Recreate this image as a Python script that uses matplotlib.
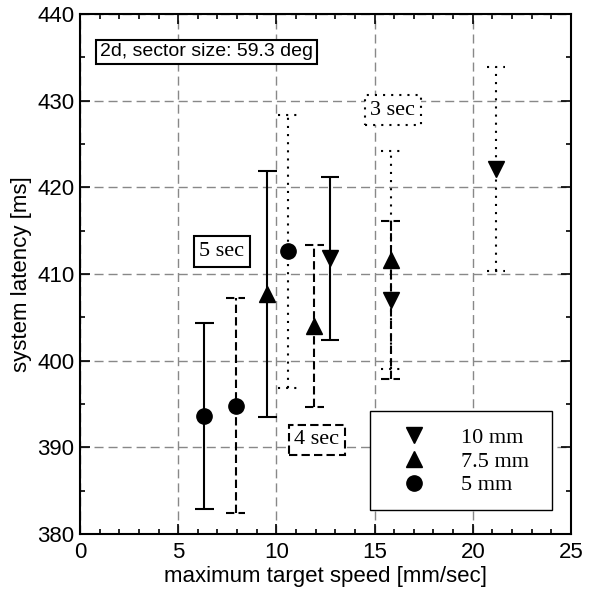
import matplotlib
matplotlib.use("Agg")
import matplotlib.pyplot as plt
from matplotlib.ticker import MultipleLocator
from matplotlib.lines import Line2D
from matplotlib.patches import Rectangle

# max target speed for 5 / 4 / 3 sec
speed_5mm = [6.33, 7.93, 10.57]
speed_7mm = [9.53, 11.92, 15.83]
speed_10mm = [12.73, 15.83, 21.18]

# mean system latency [ms] and half error bar
lat_5mm = [393.6, 394.8, 412.6]
err_5mm = [10.7, 12.4, 15.7]
lat_7mm = [407.7, 404.0, 411.6]
err_7mm = [14.2, 9.4, 12.6]
lat_10mm = [411.8, 407.0, 422.1]
err_10mm = [9.4, 9.1, 11.8]

durations = ['5 sec', '4 sec', '3 sec']
sizes = ['10 mm', '7.5 mm', '5 mm']

styles = ['-', (0, (4, 2)), (0, (1, 2.9))]
serif = 'Liberation Serif'
plt.rcParams['font.family'] = ['Liberation Sans', 'DejaVu Sans']

fig = plt.figure(figsize=(5.89, 5.91), dpi=100)
ax = fig.add_axes([0.1358, 0.0964, 0.8336, 0.8799])

series = [(speed_10mm, lat_10mm, err_10mm, 'v'),
          (speed_7mm, lat_7mm, err_7mm, '^'),
          (speed_5mm, lat_5mm, err_5mm, 'o')]

capw = 0.48
for xs, ys, es, mk in series:
    for x, y, e, ls in zip(xs, ys, es, styles):
        ax.vlines(x, y - e, y + e, colors='k', linestyles=[ls], lw=1.5, zorder=3)
        ax.hlines([y - e, y + e], x - capw, x + capw, colors='k', linestyles=[ls], lw=1.5, zorder=3)
    ax.plot(xs, ys, linestyle='none', marker=mk, color='k', markersize=11, zorder=4)

ax.set_xlim(0, 25)
ax.set_ylim(380, 440)
ax.xaxis.set_major_locator(MultipleLocator(5))
ax.xaxis.set_minor_locator(MultipleLocator(1))
ax.yaxis.set_major_locator(MultipleLocator(10))
ax.yaxis.set_minor_locator(MultipleLocator(5))
ax.tick_params(which='both', direction='in', top=True, right=True, width=1.2, labelsize=16)
ax.tick_params(axis='x', which='major', pad=6)
ax.tick_params(axis='y', which='major', pad=4)
ax.tick_params(which='major', length=7)
ax.tick_params(which='minor', length=3.5)
for s in ax.spines.values():
    s.set_linewidth(1.5)
ax.grid(True, which='major', color='#888888', lw=1, linestyle=(0, (6.5, 3.6)))
ax.set_axisbelow(True)

ax.set_xlabel('maximum target speed [mm/sec]', fontsize=16, labelpad=2)
ax.set_ylabel('system latency [ms]', fontsize=16, labelpad=4)

ax.text(0.258, 0.927, '2d, sector size: 59.3 deg', transform=ax.transAxes,
        ha='center', va='center', fontsize=14,
        bbox=dict(boxstyle='square,pad=0.2', fc='white', ec='k', lw=1.5))

label_pos = [(7.22, 412.6), (12.05, 390.9), (15.93, 428.9)]
for (tx, ty), txt, ls in zip(label_pos, durations, styles):
    ax.text(tx, ty, txt, ha='center', va='center', fontsize=16, family=serif,
            bbox=dict(boxstyle='square,pad=0.25', fc='white', ec='k', lw=1.5, ls=ls),
            zorder=5)

# legend box
ax.add_patch(Rectangle((14.75, 382.8), 9.3, 11.4, fc='white', ec='k', lw=1, zorder=5))
handles = [Line2D([], [], linestyle='none', marker=m, color='k', markersize=11)
           for m in ['v', '^', 'o']]
leg = ax.legend(handles, sizes, loc='center', bbox_to_anchor=(0.781, 0.140),
                frameon=False, prop={'family': serif, 'size': 16},
                handletextpad=1.35, labelspacing=0.15, handlelength=1.5,
                borderpad=0, borderaxespad=0)
leg.set_zorder(6)

fig.savefig('out.png', dpi=100)
